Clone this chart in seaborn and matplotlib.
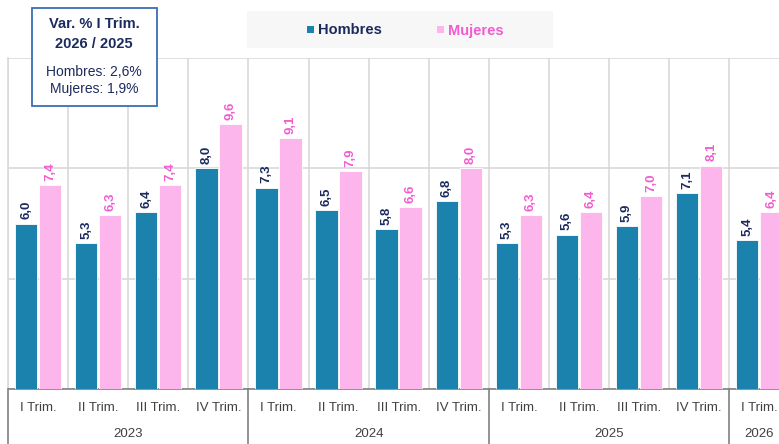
import numpy as np
import pandas as pd
import seaborn as sns
import matplotlib
matplotlib.use("Agg")
import matplotlib.pyplot as plt
from matplotlib.patches import Rectangle
from matplotlib.transforms import blended_transform_factory
from matplotlib import font_manager

# ---- data ----
years = ["2023"] * 4 + ["2024"] * 4 + ["2025"] * 4 + ["2026"]
quarters = ["I Trim.", "II Trim.", "III Trim.", "IV Trim."] * 3 + ["I Trim."]
hombres = [6.0, 5.3, 6.4, 8.0, 7.3, 6.5, 5.8, 6.8, 5.3, 5.6, 5.9, 7.1, 5.4]
mujeres = [7.4, 6.3, 7.4, 9.6, 9.1, 7.9, 6.6, 8.0, 6.3, 6.4, 7.0, 8.1, 6.4]
year_labels = ["2023", "2024", "2025", "2026"]
series = ["Hombres", "Mujeres"]
box_title = ["Var. % I Trim.", "2026 / 2025"]
box_lines = ["Hombres: 2,6%", "Mujeres: 1,9%"]

periods = [f"{y} {q}" for y, q in zip(years, quarters)]
df = pd.DataFrame({
    "period": periods * 2,
    "serie": [series[0]] * len(hombres) + [series[1]] * len(mujeres),
    "value": hombres + mujeres,
})

c_h = "#1a82ad"
c_m = "#fcb6ec"
c_h_txt = "#1c2b5e"
c_m_txt = "#f25ccf"

sns.set_theme(style="white")
names = {f.name for f in font_manager.fontManager.ttflist}
fam = "Liberation Sans Narrow" if "Liberation Sans Narrow" in names else "Liberation Sans"
plt.rcParams["font.family"] = [fam, "DejaVu Sans"]

W, H = 779, 444
fig = plt.figure(figsize=(W / 100, H / 100), dpi=100)
ax = fig.add_axes([8 / W, 55 / H, 771 / W, 331 / H])

sns.barplot(data=df, x="period", y="value", hue="serie", order=periods,
            hue_order=series, palette=[c_h, c_m], saturation=1, width=0.8, gap=0.07,
            edgecolor="white", linewidth=0.6, legend=False, ax=ax, zorder=3)

ax.set_yticks([0, 4, 8, 12])
ax.set_yticklabels([])
ax.yaxis.grid(True, color="#d9d9d9", lw=1.2, zorder=0)
ax.set_xticks(np.arange(-0.5, 13, 1), minor=True)
ax.xaxis.grid(True, which="minor", color="#d9d9d9", lw=1.2, zorder=0)
ax.xaxis.grid(False, which="major")
ax.set_axisbelow(True)
ax.set_xticks(range(len(periods)))
ax.set_xticklabels(quarters, fontsize=9.5, color="#404040")
ax.tick_params(axis="x", which="both", length=0, pad=9)
ax.tick_params(axis="y", length=0)
ax.set_xlim(-0.5, -0.5 + 771 / 60.1)
ax.set_ylim(0, 12)
ax.set_xlabel("")
ax.set_ylabel("")
for s in ["top", "right"]:
    ax.spines[s].set_visible(False)
ax.spines["left"].set_color("#d9d9d9")
ax.spines["left"].set_linewidth(1.2)
ax.spines["bottom"].set_color("#808080")
ax.spines["bottom"].set_linewidth(1.2)

# value labels
for i, v in enumerate(hombres):
    ax.annotate(f"{v:.1f}".replace(".", ","), xy=(i - 0.2, v), xytext=(0, 3),
                textcoords="offset points", rotation=90, ha="center", va="bottom",
                fontsize=9.5, fontweight="bold", color=c_h_txt, annotation_clip=False)
for i, v in enumerate(mujeres):
    ax.annotate(f"{v:.1f}".replace(".", ","), xy=(i + 0.2, v), xytext=(0, 3),
                textcoords="offset points", rotation=90, ha="center", va="bottom",
                fontsize=9.5, fontweight="bold", color=c_m_txt, annotation_clip=False)

# year labels and separators
tr = blended_transform_factory(ax.transData, ax.transAxes)
year_centers = [1.5, 5.5, 9.5, 12.0]
for cx, yl in zip(year_centers, year_labels):
    ax.text(cx, -0.135, yl, transform=tr, ha="center", va="center",
            fontsize=9.5, color="#404040", clip_on=False)
for b in [-0.5, 3.5, 7.5, 11.5]:
    ax.plot([b, b], [0, -0.2], transform=tr, color="#808080", lw=1.2, clip_on=False)

# legend box
def fx(x):
    return x / W

def fy(y):
    return 1 - y / H

fig.patches.append(Rectangle((fx(247), fy(48)), fx(553) - fx(247), fy(11) - fy(48),
                             transform=fig.transFigure, facecolor="#f7f7f7",
                             edgecolor="none", zorder=5))
fig.patches.append(Rectangle((fx(307), fy(33)), fx(7), 7 / H, transform=fig.transFigure,
                             facecolor=c_h, edgecolor="none", zorder=6))
fig.text(fx(318), fy(34.5), series[0], ha="left", va="baseline", fontsize=10.5,
         fontweight="bold", color=c_h_txt, zorder=7)
fig.patches.append(Rectangle((fx(437), fy(33)), fx(7), 7 / H, transform=fig.transFigure,
                             facecolor=c_m, edgecolor="none", zorder=6))
fig.text(fx(448), fy(34.5), series[1], ha="left", va="baseline", fontsize=10.5,
         fontweight="bold", color=c_m_txt, zorder=7)

# annotation box
fig.patches.append(Rectangle((fx(31.5), fy(106)), fx(157) - fx(31.5), fy(8) - fy(106),
                             transform=fig.transFigure, facecolor="white",
                             edgecolor="#3c6eb4", lw=1.3, zorder=5))
fig.text(fx(94), fy(24), box_title[0], ha="center", va="center", fontsize=10.5,
         fontweight="bold", color=c_h_txt, zorder=7)
fig.text(fx(94), fy(44), box_title[1], ha="center", va="center", fontsize=10.5,
         fontweight="bold", color=c_h_txt, zorder=7)
fig.text(fx(94), fy(72), box_lines[0], ha="center", va="center", fontsize=10,
         color=c_h_txt, zorder=7)
fig.text(fx(94), fy(89), box_lines[1], ha="center", va="center", fontsize=10,
         color=c_h_txt, zorder=7)

fig.savefig("out.png", dpi=100)
